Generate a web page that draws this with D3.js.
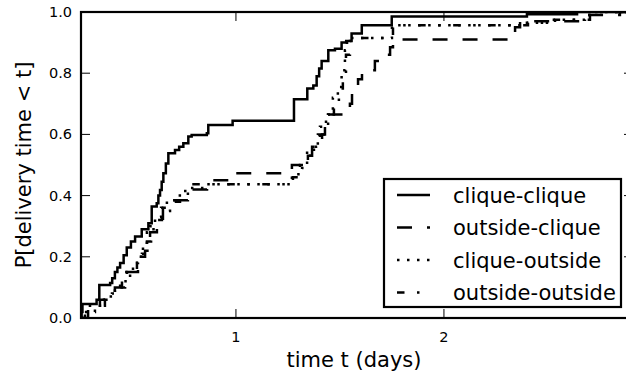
<!DOCTYPE html>
<html>
<head>
<meta charset="utf-8">
<script src="https://cdn.jsdelivr.net/npm/d3@7"></script>
<style>
  body { margin: 0; background: #fff; }
  text { font-family: "DejaVu Sans", sans-serif; fill: #000; }
</style>
</head>
<body>
<div id="chart"></div>
<script>
const cliqueClique = [
    [0.255, 0], [0.258, 0.02], [0.262, 0.046], [0.330, 0.06], [0.343, 0.108], [0.395, 0.114],
    [0.405, 0.13], [0.418, 0.15], [0.430, 0.165], [0.443, 0.18], [0.46, 0.205], [0.475, 0.23],
    [0.495, 0.25], [0.515, 0.266], [0.547, 0.29], [0.579, 0.31], [0.595, 0.364], [0.619, 0.375],
    [0.627, 0.40], [0.635, 0.418], [0.643, 0.445], [0.651, 0.473], [0.663, 0.505], [0.675, 0.538],
    [0.707, 0.549], [0.727, 0.56], [0.747, 0.571], [0.771, 0.593], [0.787, 0.598], [0.860, 0.604],
    [0.867, 0.631], [0.984, 0.645], [1.279, 0.715], [1.343, 0.75], [1.372, 0.76], [1.388, 0.79],
    [1.40, 0.815], [1.412, 0.84], [1.444, 0.875], [1.476, 0.88], [1.508, 0.90], [1.53, 0.905],
    [1.556, 0.93], [1.605, 0.957], [1.749, 0.985], [2.399, 0.993], [2.640, 1.0], [2.95, 1.0]
];
const outsideClique = [
    [0.255, 0], [0.289, 0.03], [0.346, 0.06], [0.418, 0.10], [0.467, 0.15], [0.529, 0.20],
    [0.563, 0.22], [0.587, 0.28], [0.620, 0.32], [0.649, 0.36], [0.683, 0.385], [0.769, 0.42],
    [0.861, 0.45], [0.971, 0.473], [1.269, 0.50], [1.337, 0.53], [1.366, 0.56], [1.394, 0.60],
    [1.428, 0.64], [1.443, 0.665], [1.548, 0.70], [1.558, 0.74], [1.587, 0.78], [1.606, 0.81],
    [1.668, 0.84], [1.702, 0.86], [1.741, 0.885], [1.755, 0.91], [2.342, 0.95], [2.366, 0.97],
    [2.654, 0.99], [2.846, 1.0], [2.95, 1.0]
];
const cliqueOutside = [
    [0.255, 0], [0.265, 0.02], [0.298, 0.04], [0.346, 0.06], [0.385, 0.07], [0.418, 0.09],
    [0.443, 0.12], [0.476, 0.15], [0.505, 0.18], [0.529, 0.20], [0.553, 0.24], [0.572, 0.28],
    [0.587, 0.30], [0.611, 0.33], [0.640, 0.36], [0.668, 0.385], [0.707, 0.40], [0.741, 0.415],
    [0.779, 0.425], [0.851, 0.437], [1.269, 0.47], [1.308, 0.50], [1.342, 0.55], [1.385, 0.57],
    [1.404, 0.625], [1.443, 0.665], [1.466, 0.72], [1.490, 0.755], [1.508, 0.81], [1.524, 0.875],
    [1.534, 0.915], [1.750, 0.957], [2.399, 0.965], [2.510, 0.975], [2.678, 0.99], [2.726, 1.0],
    [2.95, 1.0]
];
const outsideOutside = [
    [0.255, 0], [0.274, 0.02], [0.322, 0.04], [0.370, 0.06], [0.404, 0.08], [0.433, 0.10],
    [0.452, 0.13], [0.491, 0.16], [0.524, 0.19], [0.548, 0.21], [0.572, 0.25], [0.592, 0.29],
    [0.616, 0.32], [0.644, 0.35], [0.683, 0.38], [0.731, 0.40], [0.769, 0.418], [0.779, 0.437],
    [1.274, 0.46], [1.318, 0.49], [1.346, 0.53], [1.385, 0.56], [1.414, 0.60], [1.433, 0.65],
    [1.452, 0.665], [1.471, 0.70], [1.495, 0.75], [1.514, 0.80], [1.529, 0.86], [1.548, 0.905],
    [1.572, 0.915], [1.755, 0.957], [2.404, 0.965], [2.534, 0.975], [2.702, 0.99], [2.750, 1.0],
    [2.95, 1.0]
];

const seriesNames = ["clique-clique", "outside-clique", "clique-outside", "outside-outside"];
const xTicks = [1, 2];
const yTicks = [0, 0.2, 0.4, 0.6, 0.8, 1.0];

const series = [
    { name: seriesNames[0], values: cliqueClique, dash: null },
    { name: seriesNames[1], values: outsideClique, dash: "15,15" },
    { name: seriesNames[2], values: cliqueOutside, dash: "2.5,7.5" },
    { name: seriesNames[3], values: outsideOutside, dash: "7.5,12.5,2.5,12.5" }
];

const W = 626, H = 376;
const plot = { left: 81, right: 633, top: 12, bottom: 318 };

const svg = d3.select("#chart").append("svg")
    .attr("width", W)
    .attr("height", H);

svg.append("rect").attr("width", W).attr("height", H).attr("fill", "#fff");

const x = d3.scaleLinear().domain([0.255, 2.909]).range([plot.left, plot.right]);
const y = d3.scaleLinear().domain([0, 1]).range([plot.bottom, plot.top]);

svg.append("clipPath").attr("id", "clip")
    .append("rect")
    .attr("x", plot.left).attr("y", plot.top)
    .attr("width", plot.right - plot.left).attr("height", plot.bottom - plot.top);

const line = d3.line()
    .x(d => x(d[0]))
    .y(d => y(d[1]))
    .curve(d3.curveStepAfter);

svg.append("g").attr("clip-path", "url(#clip)")
    .selectAll("path")
    .data(series)
    .enter().append("path")
    .attr("d", d => line(d.values))
    .attr("fill", "none")
    .attr("stroke", "#000")
    .attr("stroke-width", 2.5)
    .attr("stroke-dasharray", d => d.dash);

// ticks point inward on all four sides (matplotlib classic)
const tickLen = 9;
const ticks = svg.append("g").attr("stroke", "#000").attr("stroke-width", 1);
xTicks.forEach(t => {
    ticks.append("line").attr("x1", x(t)).attr("x2", x(t)).attr("y1", plot.bottom).attr("y2", plot.bottom - tickLen);
    ticks.append("line").attr("x1", x(t)).attr("x2", x(t)).attr("y1", plot.top).attr("y2", plot.top + tickLen);
});
yTicks.forEach(t => {
    ticks.append("line").attr("x1", plot.left).attr("x2", plot.left + tickLen).attr("y1", y(t)).attr("y2", y(t));
    ticks.append("line").attr("x1", plot.right).attr("x2", plot.right - tickLen).attr("y1", y(t)).attr("y2", y(t));
});

svg.append("rect")
    .attr("x", plot.left).attr("y", plot.top)
    .attr("width", plot.right - plot.left).attr("height", plot.bottom - plot.top)
    .attr("fill", "none")
    .attr("stroke", "#000")
    .attr("stroke-width", 2.2);

svg.selectAll(".xlab")
    .data(xTicks)
    .enter().append("text")
    .attr("x", d => x(d))
    .attr("y", 342)
    .attr("text-anchor", "middle")
    .style("font-size", "14.5px")
    .text(d => d3.format("d")(d));

svg.selectAll(".ylab")
    .data(yTicks)
    .enter().append("text")
    .attr("x", 72)
    .attr("y", d => y(d) + 5)
    .attr("text-anchor", "end")
    .style("font-size", "14.5px")
    .text(d => d3.format(".1f")(d));

svg.append("text")
    .attr("x", (plot.left + plot.right) / 2 - 3)
    .attr("y", 367)
    .attr("text-anchor", "middle")
    .style("font-size", "21px")
    .text("time t (days)");

svg.append("text")
    .attr("transform", `translate(31,${(plot.top + plot.bottom) / 2}) rotate(-90)`)
    .attr("text-anchor", "middle")
    .style("font-size", "21px")
    .text("P[delivery time < t]");

// legend
const legend = svg.append("g");
legend.append("rect")
    .attr("x", 384).attr("y", 179)
    .attr("width", 237).attr("height", 128)
    .attr("fill", "#fff")
    .attr("stroke", "#000")
    .attr("stroke-width", 2.2);

const rows = legend.selectAll(".row")
    .data(series)
    .enter().append("g")
    .attr("transform", (d, i) => `translate(0,${195 + i * 32.5})`);

rows.append("line")
    .attr("x1", 397).attr("x2", 430)
    .attr("stroke", "#000")
    .attr("stroke-width", 2.5)
    .attr("stroke-dasharray", d => d.dash);

rows.append("text")
    .attr("x", 453)
    .attr("y", 7.5)
    .style("font-size", "21px")
    .text(d => d.name);
</script>
</body>
</html>
